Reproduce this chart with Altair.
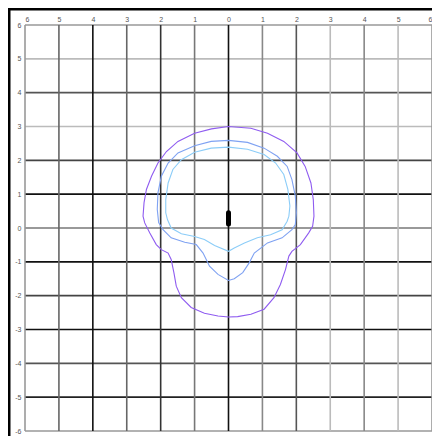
import altair as alt
import pandas as pd

# grid lines and their (scanned) shades
grid_x = list(range(-6, 7))
grid_x_colors = ["#999999", "#666666", "#111111", "#666666", "#333333", "#777777", "#111111",
                 "#888888", "#555555", "#bbbbbb", "#888888", "#bbbbbb", "#999999"]
grid_y = list(range(6, -7, -1))
grid_y_colors = ["#999999", "#bbbbbb", "#555555", "#bbbbbb", "#444444", "#111111", "#777777",
                 "#111111", "#444444", "#111111", "#555555", "#222222", "#999999"]

# contours (clockwise from top)
outer_x = [0, 0.66, 1.15, 1.63, 2.02, 2.26, 2.43, 2.50, 2.52, 2.48, 2.36, 2.12, 1.87, 1.78, 1.68,
           1.53, 1.34, 1.05, 0.66, 0.27, 0, -0.31, -0.71, -1.10, -1.39, -1.54, -1.61, -1.69,
           -1.78, -1.98, -2.13, -2.32, -2.47, -2.52, -2.49, -2.42, -2.27, -2.08, -1.83, -1.49,
           -1.0, -0.5, 0]
outer_y = [3.0, 2.95, 2.8, 2.56, 2.22, 1.82, 1.33, 0.84, 0.35, 0.05, -0.15, -0.49, -0.69, -0.83,
           -1.23, -1.67, -2.06, -2.40, -2.55, -2.62, -2.63, -2.60, -2.52, -2.35, -2.06, -1.72,
           -1.32, -0.93, -0.74, -0.64, -0.49, -0.15, 0.15, 0.35, 0.75, 1.14, 1.53, 1.92, 2.26,
           2.56, 2.8, 2.93, 3.0]
middle_x = [0, 0.56, 1.05, 1.44, 1.73, 1.87, 1.97, 2.0, 1.97, 1.87, 1.58, 1.15, 0.76, 0.61, 0.42,
            0.17, 0, -0.31, -0.56, -0.75, -0.95, -1.29, -1.69, -1.93, -2.06, -2.10, -2.08, -1.98,
            -1.78, -1.49, -1.0, -0.51, 0]
middle_y = [2.59, 2.53, 2.36, 2.12, 1.82, 1.43, 0.94, 0.45, 0.1, -0.05, -0.29, -0.44, -0.74, -1.03,
            -1.32, -1.5, -1.55, -1.37, -1.13, -0.74, -0.49, -0.42, -0.29, -0.05, 0.16, 0.55, 1.04,
            1.53, 1.92, 2.22, 2.43, 2.56, 2.59]
inner_x = [0, 0.56, 1.05, 1.39, 1.63, 1.75, 1.81, 1.78, 1.73, 1.58, 1.24, 0.85, 0.47, 0.17, 0,
           -0.41, -0.71, -1.0, -1.39, -1.69, -1.80, -1.85, -1.85, -1.78, -1.64, -1.39, -1.0,
           -0.51, 0]
inner_y = [2.39, 2.33, 2.17, 1.92, 1.58, 1.14, 0.65, 0.35, 0.2, -0.05, -0.2, -0.29, -0.44, -0.59,
           -0.69, -0.52, -0.34, -0.25, -0.17, 0.0, 0.25, 0.45, 0.84, 1.33, 1.73, 2.02, 2.24, 2.36,
           2.39]
series_names = ["outer", "middle", "inner"]
series_colors = ["#8f5cf0", "#7fa2f2", "#8ccdf8"]

# black marker
marker_x = [0]
marker_y = [0.12]
marker_y2 = [0.45]

W = 407
H = 406
xs = alt.Scale(domain=[-6, 6], nice=False, zero=False)
ys = alt.Scale(domain=[-6, 6], nice=False, zero=False)
x_axis = alt.Axis(orient="top", values=grid_x, labelExpr="'' + abs(datum.value)",
                  ticks=False, domain=False, grid=False, labelPadding=3,
                  labelFontSize=7, labelColor="#555555", title=None,
                  labelFont="Liberation Sans")
y_axis = alt.Axis(orient="left", values=grid_y, labelExpr="'' + datum.value",
                  ticks=False, domain=False, grid=False, labelPadding=4,
                  labelFontSize=7, labelColor="#555555", title=None,
                  labelFont="Liberation Sans")

vdf = pd.DataFrame({"x": grid_x, "y": -6, "y2": 6, "c": grid_x_colors})
hdf = pd.DataFrame({"y": grid_y, "x": -6, "x2": 6, "c": grid_y_colors})

rows = []
for name, cx, cy in [("outer", outer_x, outer_y), ("middle", middle_x, middle_y),
                     ("inner", inner_x, inner_y)]:
    for i, (a, b) in enumerate(zip(cx, cy)):
        rows.append({"s": name, "x": a, "y": b, "i": i})
cdf = pd.DataFrame(rows)
mdf = pd.DataFrame({"x": marker_x, "y": marker_y, "y2": marker_y2})

X = alt.X("x:Q", scale=xs, axis=x_axis)
Y = alt.Y("y:Q", scale=ys, axis=y_axis)

vlines = alt.Chart(vdf).mark_rule(strokeWidth=1.6).encode(
    x=X, y=Y, y2="y2:Q", color=alt.Color("c:N", scale=None),
)
hlines = alt.Chart(hdf).mark_rule(strokeWidth=1.6).encode(
    y=Y, x=X, x2="x2:Q", color=alt.Color("c:N", scale=None),
)
curves = alt.Chart(cdf).mark_line(strokeWidth=1.1).encode(
    x=X, y=Y,
    order="i:Q",
    detail="s:N",
    color=alt.Color("s:N", scale=alt.Scale(domain=series_names, range=series_colors), legend=None),
)
marker = alt.Chart(mdf).mark_rule(strokeWidth=5, strokeCap="round", color="black").encode(
    x=X, y=Y, y2="y2:Q",
)
one = pd.DataFrame({"k": [0]})
frame_top = alt.Chart(one).mark_rule(strokeWidth=3, color="black").encode(
    x=alt.value(-18), x2=alt.value(420), y=alt.value(-16))
frame_left = alt.Chart(one).mark_rule(strokeWidth=3, color="black").encode(
    x=alt.value(-16), y=alt.value(-18), y2=alt.value(415))

chart = alt.layer(hlines, vlines, curves, marker, frame_top, frame_left).properties(
    width=W, height=H,
    padding={"left": 17, "top": 17, "right": 0, "bottom": 5},
    autosize=alt.AutoSizeParams(type="none"),
    background="white",
).configure_view(stroke=None)

chart.save("out.html", embed_options={"renderer": "svg", "actions": False})
